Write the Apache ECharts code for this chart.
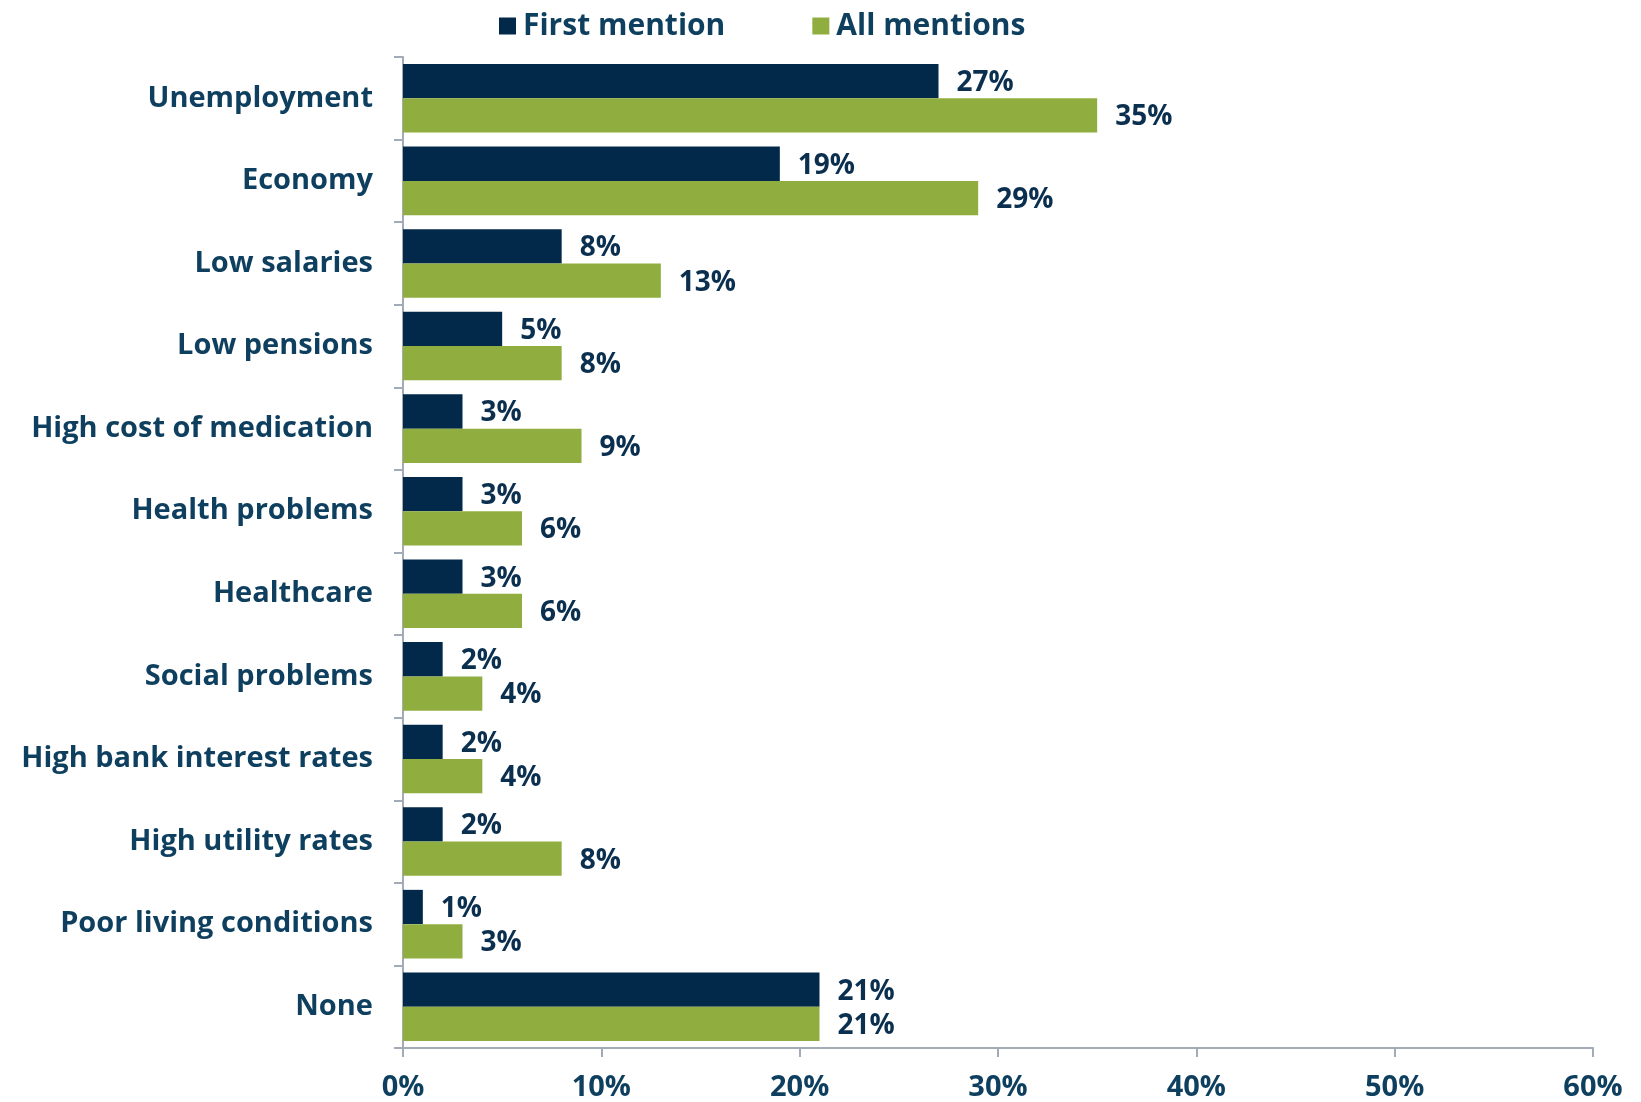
<!DOCTYPE html>
<html><head><meta charset="utf-8">
<script src="https://cdn.jsdelivr.net/npm/echarts@6/dist/echarts.min.js"></script>
<style>html,body{margin:0;padding:0;background:#fff}#c{width:1641px;height:1102px}</style>
</head><body><div id="c"></div>
<script>
const categories = ["Unemployment","Economy","Low salaries","Low pensions","High cost of medication","Health problems","Healthcare","Social problems","High bank interest rates","High utility rates","Poor living conditions","None"];
const firstMention = [27,19,8,5,3,3,3,2,2,2,1,21];
const allMentions = [35,29,13,8,9,6,6,4,4,8,3,21];
const seriesNames = ["First mention","All mentions"];
const xTicks = [0,10,20,30,40,50,60];

const FONT = '"Open Sans"';
const TXT = '#0e3f5f';
const chart = echarts.init(document.getElementById('c'));
const lbl = {show:true, position:'right', distance:18, offset:[0,2], formatter:p=>p.value+'%', color:'#0b2f4f', fontFamily:FONT, fontWeight:'bold', fontSize:28};
chart.setOption({
  animation:false,
  legend:{top:6, left:494, itemWidth:17, itemHeight:17, itemGap:87, icon:'rect',
    textStyle:{color:TXT, fontFamily:FONT, fontWeight:'bold', fontSize:30, padding:[0,0,0,2]}},
  grid:{left:403, right:48, top:57, bottom:53, containLabel:false},
  xAxis:{type:'value', min:0, max:60, interval:10,
    axisLine:{show:true, lineStyle:{color:'#a3abb6', width:2}},
    axisTick:{show:true, length:9, lineStyle:{color:'#a3abb6', width:2}},
    splitLine:{show:false},
    axisLabel:{formatter:v=>xTicks.includes(v)?v+'%':'', color:TXT, fontFamily:FONT, fontWeight:'bold', fontSize:29, margin:25}},
  yAxis:{type:'category', data:categories, inverse:true,
    axisLine:{show:true, lineStyle:{color:'#a3abb6', width:2}},
    axisTick:{show:true, length:9, lineStyle:{color:'#a3abb6', width:2}},
    axisLabel:{color:TXT, fontFamily:FONT, fontWeight:'bold', fontSize:29, margin:30}},
  series:[
    {name:seriesNames[0], type:'bar', data:firstMention, itemStyle:{color:'#02284a'}, barGap:'0%', barCategoryGap:'17%', label:lbl},
    {name:seriesNames[1], type:'bar', data:allMentions, itemStyle:{color:'#90ae3f'}, barGap:'0%', barCategoryGap:'17%', label:lbl}
  ]
});
</script></body></html>
